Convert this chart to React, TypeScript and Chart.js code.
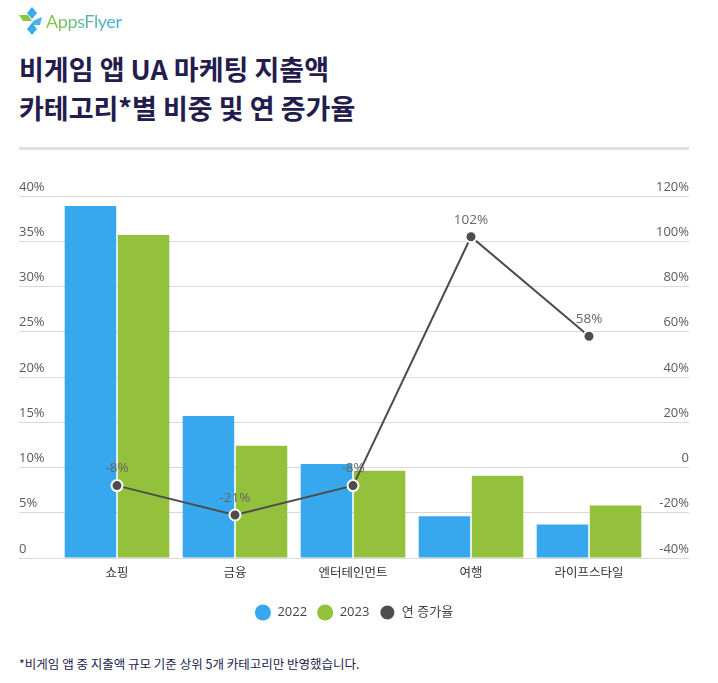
import React, { useEffect, useRef } from "react";
import { Chart, registerables } from "chart.js";

Chart.register(...registerables);

const categories = ["쇼핑", "금융", "엔터테인먼트", "여행", "라이프스타일"];
const share2022 = [38.9, 15.7, 10.4, 4.6, 3.7];
const share2023 = [35.7, 12.4, 9.65, 9.1, 5.8];
const growth = [-8, -21, -8, 102, 58];
const seriesNames = ["2022", "2023", "연 증가율"];

const titleLines = ["비게임 앱 UA 마케팅 지출액", "카테고리*별 비중 및 연 증가율"];
const footnote = "*비게임 앱 중 지출액 규모 기준 상위 5개 카테고리만 반영했습니다.";

const BLUE = "#37a8ee";
const GREEN = "#93c13b";
const DARK = "#4d4d4d";
const GRID = "#d9d9d9";
const TICK = "#5a5a5a";
const NAVY = "#231c4d";
const FONT = "'Open Sans', 'Noto Sans CJK KR', sans-serif";

const pointLabels = {
  id: "pointLabels",
  afterDatasetsDraw(chart: any) {
    const meta = chart.getDatasetMeta(2);
    const ctx = chart.ctx;
    ctx.save();
    ctx.font = `13.5px ${FONT}`;
    ctx.fillStyle = "#666666";
    ctx.textAlign = "center";
    ctx.textBaseline = "middle";
    meta.data.forEach((pt: any, i: number) => {
      ctx.fillText(`${growth[i]}%`, pt.x, pt.y - 17);
    });
    ctx.restore();
  },
};

function Logo() {
  return (
    <div style={{ position: "absolute", left: 19, top: 5, height: 32, display: "flex", alignItems: "center" }}>
      <svg width="26" height="32" viewBox="0 0 26 32">
        <polygon points="0,10 9,10 13,16 4,16" fill="#8cc63f" />
        <polygon points="13,2 18,8 13,14 8,8" fill="#3aa9ee" />
        <polygon points="14,16 23,12 21,20 12,20" fill="#3aa9ee" opacity="0.9" />
        <polygon points="13,18 18,24 13,30 8,24" fill="#3aa9ee" />
      </svg>
      <span
        style={{
          fontFamily: "'Lato', sans-serif",
          fontSize: 18,
          marginLeft: 1,
          background: "linear-gradient(90deg, #8cc63f 0%, #3aa9ee 100%)",
          WebkitBackgroundClip: "text",
          backgroundClip: "text",
          color: "transparent",
          letterSpacing: -0.4,
        }}
      >
        AppsFlyer
      </span>
    </div>
  );
}

export default function App() {
  const canvasRef = useRef<HTMLCanvasElement | null>(null);

  useEffect(() => {
    if (!canvasRef.current) return;
    const chart = new Chart(canvasRef.current, {
      type: "bar",
      data: {
        labels: categories,
        datasets: [
          {
            type: "bar",
            label: seriesNames[0],
            data: share2022,
            backgroundColor: BLUE,
            yAxisID: "y",
            order: 2,
            barPercentage: 0.97,
            categoryPercentage: 0.9,
          },
          {
            type: "bar",
            label: seriesNames[1],
            data: share2023,
            backgroundColor: GREEN,
            yAxisID: "y",
            order: 2,
            barPercentage: 0.97,
            categoryPercentage: 0.9,
          },
          {
            type: "line",
            label: seriesNames[2],
            data: growth,
            borderColor: DARK,
            backgroundColor: DARK,
            borderWidth: 2,
            pointRadius: 5.5,
            pointBorderWidth: 2,
            pointBorderColor: "#ffffff",
            pointBackgroundColor: DARK,
            yAxisID: "y1",
            order: 0,
            tension: 0,
          } as any,
        ],
      },
      options: {
        animation: false,
        responsive: false,
        maintainAspectRatio: false,
        layout: { padding: { left: 19, right: 29, top: 26, bottom: 11 } },
        scales: {
          x: {
            grid: { display: false, drawTicks: false },
            border: { display: false },
            ticks: {
              color: "#333333",
              padding: 8,
              font: { family: FONT, size: 12.5 },
              maxRotation: 0,
            },
            afterFit: (s: any) => {
              s.height = 38;
            },
          },
          y: {
            position: "left",
            min: 0,
            max: 40,
            border: { display: false },
            grid: { color: GRID, lineWidth: 1, drawTicks: true, tickLength: 39, tickColor: GRID },
            ticks: {
              stepSize: 5,
              crossAlign: "far",
              labelOffset: -9,
              color: TICK,
              font: { family: FONT, size: 13 },
              callback: (v: any) => (v === 0 ? "0" : `${v}%`),
            },
            afterFit: (s: any) => {
              s.width = 39;
            },
          },
          y1: {
            position: "right",
            min: -40,
            max: 120,
            border: { display: false },
            grid: {
              drawOnChartArea: false,
              drawTicks: true,
              tickLength: 41,
              color: GRID,
              tickColor: GRID,
            },
            ticks: {
              stepSize: 20,
              crossAlign: "far",
              labelOffset: -9,
              color: TICK,
              font: { family: FONT, size: 13 },
              callback: (v: any) => (v === 0 ? "0" : `${v}%`),
            },
            afterFit: (s: any) => {
              s.width = 41;
            },
          },
        },
        plugins: {
          legend: {
            position: "bottom",
            labels: {
              usePointStyle: true,
              pointStyle: "circle",
              boxHeight: 11.3,
              pointStyleWidth: 16,
              padding: 10,
              color: "#444444",
              font: { family: FONT, size: 13 },
              sort: (a: any, b: any) => a.datasetIndex - b.datasetIndex,
            },
          },
          tooltip: { enabled: false },
        },
      } as any,
      plugins: [pointLabels],
    });
    return () => chart.destroy();
  }, []);

  return (
    <div
      style={{
        position: "absolute",
        left: 0,
        top: 0,
        width: 718,
        height: 683,
        background: "#ffffff",
        overflow: "hidden",
      }}
    >
      <Logo />
      <div
        style={{
          position: "absolute",
          left: 19,
          top: 49,
          fontFamily: "'Noto Sans CJK KR', sans-serif",
          fontWeight: 700,
          fontSize: 27,
          lineHeight: "39px",
          color: NAVY,
          letterSpacing: 0,
          whiteSpace: "nowrap",
        }}
      >
        <div>{titleLines[0]}</div>
        <div>{titleLines[1]}</div>
      </div>
      <div
        style={{
          position: "absolute",
          left: 19,
          top: 147,
          width: 670,
          height: 3,
          background: "#e0e0e0",
        }}
      />
      <canvas
        ref={canvasRef}
        width={718}
        height={470}
        style={{ position: "absolute", left: 0, top: 170, width: 718, height: 470 }}
      />
      <div
        style={{
          position: "absolute",
          left: 19,
          top: 654,
          fontFamily: "'Noto Sans CJK KR', sans-serif",
          fontSize: 12.5,
          color: NAVY,
          whiteSpace: "nowrap",
        }}
      >
        {footnote}
      </div>
    </div>
  );
}
